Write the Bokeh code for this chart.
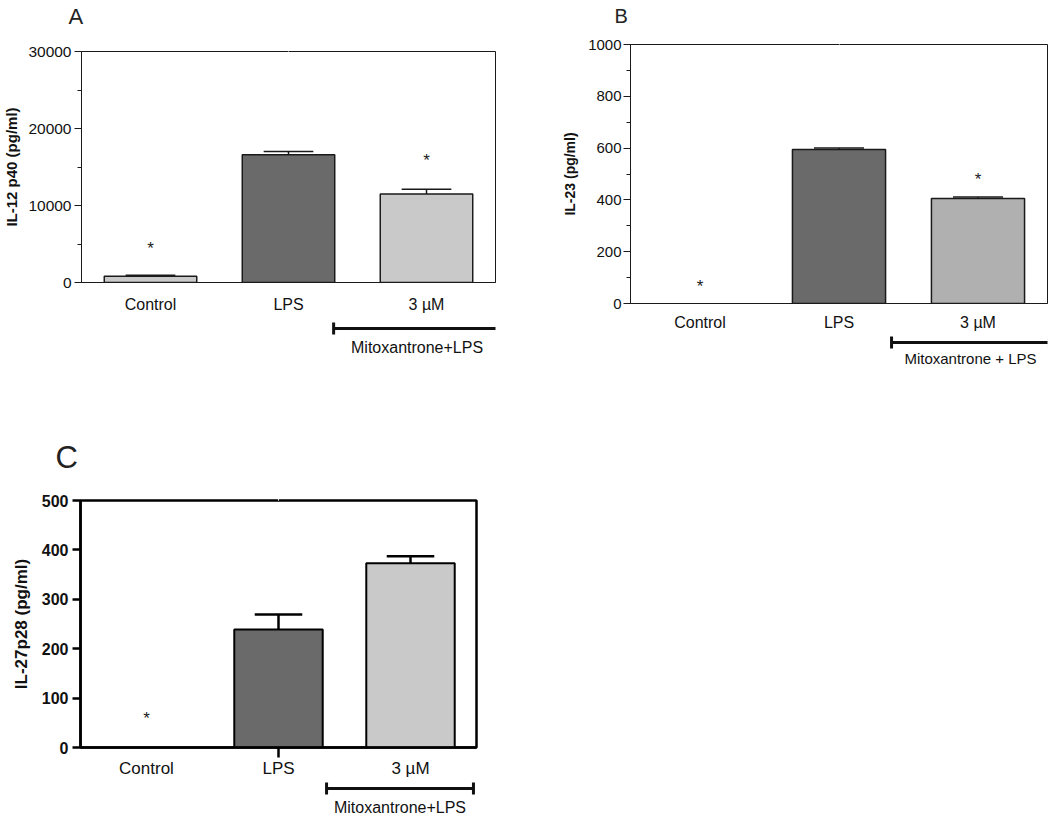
from bokeh.plotting import figure
from bokeh.models import FixedTicker, Range1d, ColumnDataSource, LinearAxis
from bokeh.layouts import column, row
from bokeh.embed import file_html
from bokeh.resources import INLINE
from bokeh.core.properties import value

FONT = "Liberation Sans"

# ---------------- data ----------------
categories = ["Control", "LPS", "3 µM"]
x_pos = [0, 1, 2]

a_values = [800, 16600, 11500]
a_errors = [150, 400, 600]
a_colors = ["#c9c9c9", "#6a6a6a", "#c9c9c9"]
a_star_x = [0, 2]
a_star_y = [5100, 16450]
a_yticks = [0, 10000, 20000, 30000]
a_yminor = [5000, 15000, 25000]

b_values = [0, 595, 405]
b_errors = [0, 5, 6]
b_colors = ["#c9c9c9", "#6a6a6a", "#b0b0b0"]
b_star_x = [0, 2]
b_star_y = [86, 499]
b_yticks = [0, 200, 400, 600, 800, 1000]
b_yminor = [100, 300, 500, 700, 900]

c_values = [0, 239, 373]
c_errors = [0, 30, 14]
c_colors = ["#c9c9c9", "#6a6a6a", "#c9c9c9"]
c_star_x = [0]
c_star_y = [68]
c_yticks = [0, 100, 200, 300, 400, 500]
c_yminor = []


def panel(values, errors, colors, star_x, star_y, yticks, yminor, ylabel,
          letter, bracket_text, bracket_span, g, s):
    W = g["left"] + g["fw"] + g["right"]
    H = g["top"] + g["fh"] + g["bottom"]

    p = figure(width=W, height=H, output_backend="svg", toolbar_location=None,
               x_range=Range1d(-0.5, 2.5), y_range=Range1d(yticks[0], yticks[-1]),
               min_border_left=g["left"], min_border_right=g["right"],
               min_border_top=g["top"], min_border_bottom=g["bottom"])
    p.grid.visible = False
    p.outline_line_color = s["line"]
    p.outline_line_width = s["lw"]
    p.background_fill_color = "white"
    p.border_fill_color = "white"

    # invisible spacer between the frame and the panel letter (one white tick)
    spacer = LinearAxis(ticker=FixedTicker(ticks=[1.0]), axis_line_color=None,
                        major_tick_out=g["gap"], major_tick_in=0,
                        major_tick_line_color="white", major_tick_line_width=1,
                        minor_tick_line_color=None, minor_tick_out=0, minor_tick_in=0,
                        major_label_standoff=0, major_label_text_font_size="1px",
                        major_label_text_color="white",
                        major_label_overrides={1.0: ""})
    p.add_layout(spacer, "above")

    # panel letter
    p.title.text = letter
    p.title.align = "left"
    p.title.vertical_align = "bottom"
    p.title.offset = g["t_x"]
    p.title.standoff = 0
    p.title.text_font = FONT
    p.title.text_font_style = "normal"
    p.title.text_font_size = s["t_size"]
    p.title.text_color = "#222222"

    # bars
    bx = [x for x, v in zip(x_pos, values) if v > 0]
    bv = [v for v in values if v > 0]
    bc = [c for c, v in zip(colors, values) if v > 0]
    src = ColumnDataSource(dict(x=bx, top=bv, color=bc))
    p.vbar(x="x", top="top", bottom=0, width=0.67, source=src,
           fill_color="color", line_color=s["line"], line_width=s["bar_lw"])

    # error bars (upper only)
    ex = [x for x, e in zip(x_pos, errors) if e > 0]
    ev = [v for v, e in zip(values, errors) if e > 0]
    et = [v + e for v, e in zip(values, errors) if e > 0]
    cw = 0.18
    p.segment(x0=ex, y0=ev, x1=ex, y1=et, line_color=s["line"], line_width=s["err_lw"])
    p.segment(x0=[x - cw for x in ex], y0=et, x1=[x + cw for x in ex], y1=et,
              line_color=s["line"], line_width=s["err_lw"])

    # significance asterisks
    p.text(x=star_x, y=star_y, text=["*"] * len(star_x), text_align="center",
           text_baseline="middle", text_font=value(FONT), text_font_size="17px",
           text_color="#222222", y_offset=5)

    # y axis
    ya = p.yaxis[0]
    ya.ticker = FixedTicker(ticks=yticks, minor_ticks=yminor)
    ya.axis_label = ylabel
    ya.axis_label_text_font = FONT
    ya.axis_label_text_font_style = "bold"
    ya.axis_label_text_font_size = s["ylab_size"]
    ya.axis_label_text_color = "#111111"
    ya.axis_label_standoff = s["ylab_stand"]
    ya.major_label_text_font = FONT
    ya.major_label_text_font_size = s["tick_size"]
    ya.major_label_text_font_style = s["tick_style"]
    ya.major_label_text_color = "#111111"
    ya.major_label_standoff = s["tick_stand"]
    ya.major_tick_out = s["tick_out"]
    ya.major_tick_in = 0
    ya.major_tick_line_width = s["lw"]
    ya.major_tick_line_color = s["line"]
    ya.minor_tick_out = 4
    ya.minor_tick_in = 0
    ya.minor_tick_line_color = s["line"]
    ya.axis_line_color = s["line"]
    ya.axis_line_width = s["lw"]

    # x axis
    xa = p.below[0]
    xa.ticker = FixedTicker(ticks=x_pos, minor_ticks=s["x_minor"])
    xa.major_label_overrides = {x: c for x, c in zip(x_pos, categories)}
    xa.major_label_text_font = FONT
    xa.major_label_text_font_size = s["xlab_size"]
    xa.major_label_text_color = "#111111"
    xa.major_label_standoff = s["xlab_stand"]
    xa.major_tick_line_color = None
    xa.major_tick_out = 0
    xa.major_tick_in = 0
    xa.minor_tick_out = s["x_minor_out"]
    xa.minor_tick_in = 0
    xa.minor_tick_line_width = s["lw"]
    xa.minor_tick_line_color = s["line"]
    xa.axis_line_color = s["line"]
    xa.axis_line_width = s["lw"]

    # lower strip with the group bracket (frame aligned with the main frame)
    low = figure(width=W, height=g["low_h"], output_backend="svg", toolbar_location=None,
                 x_range=Range1d(-0.5, 2.5), y_range=Range1d(g["low_h"], 0),
                 min_border_left=g["left"], min_border_right=g["right"],
                 min_border_top=0, min_border_bottom=0,
                 x_axis_location=None, y_axis_location=None)
    low.grid.visible = False
    low.outline_line_color = None
    x0, x1 = bracket_span
    by = g["br_y"]
    low.segment(x0=[x0, x0, x1], y0=[by, by - 6, by - 6], x1=[x1, x0, x1], y1=[by, by + 6, by + 6],
                line_color="#111111", line_width=3)
    low.text(x=[(x0 + x1) / 2], y=[g["tx_y"]], text=[bracket_text], text_align="center",
             text_baseline="middle", text_font=value(FONT), text_font_size=s["br_size"],
             text_color="#111111")
    return column(p, low)


thin = dict(line="#1a1a1a", lw=1, bar_lw=1.5, err_lw=1.5, t_size="22px", ylab_size="15px",
            ylab_stand=5, tick_size="15.5px", tick_style="normal", tick_stand=3, tick_out=7,
            x_minor=[], x_minor_out=0, xlab_size="16px", xlab_stand=13, br_size="16px")

panel_a = panel(a_values, a_errors, a_colors, a_star_x, a_star_y, a_yticks, a_yminor,
                "IL-12 p40 (pg/ml)", "A", "Mitoxantrone+LPS", (1.327, 2.536),
                dict(left=78, fw=417, right=53, top=51, fh=231, bottom=36, low_h=102,
                     br_y=10, tx_y=29, t_x=-13, gap=23), thin)

thin_b = dict(thin, t_size="20px", ylab_size="14px", ylab_stand=7, xlab_stand=10,
              br_size="15px", tick_size="15px", tick_stand=2)
panel_b = panel(b_values, b_errors, b_colors, b_star_x, b_star_y, b_yticks, b_yminor,
                "IL-23 (pg/ml)", "B", "Mitoxantrone + LPS", (1.378, 2.514),
                dict(left=82, fw=417, right=3, top=44, fh=259, bottom=30, low_h=87,
                     br_y=9, tx_y=25, t_x=-16, gap=18), thin_b)

thick = dict(line="#000000", lw=2.5, bar_lw=2, err_lw=2.5, t_size="31px", ylab_size="17px",
             ylab_stand=8, tick_size="16px", tick_style="bold", tick_stand=4, tick_out=8,
             x_minor=[1], x_minor_out=10, xlab_size="17px", xlab_stand=1, br_size="16px")
panel_c = panel(c_values, c_errors, c_colors, c_star_x, c_star_y, c_yticks, c_yminor,
                "IL-27p28 (pg/ml)", "C", "Mitoxantrone+LPS", (1.364, 2.477),
                dict(left=80, fw=396, right=30, top=80, fh=247, bottom=33, low_h=37,
                     br_y=8, tx_y=27, t_x=-25, gap=26), thick)

layout = column(row(panel_a, panel_b), panel_c)

open("out.html", "w").write(file_html(layout, INLINE))
